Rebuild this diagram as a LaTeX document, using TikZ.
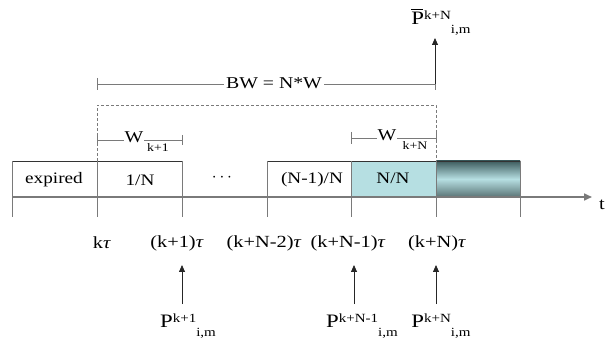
\documentclass[tikz,border=0pt]{standalone}
\usepackage{fontspec}
\setmainfont{Liberation Serif}[FakeStretch=1.2]
\usetikzlibrary{arrows.meta}
\newcommand{\smallf}{\fontsize{11.5}{12}\selectfont}
\newcommand{\midf}{\fontsize{12.5}{13}\selectfont}
\newcommand{\tauc}{\textit{τ}}
\newcommand{\Plab}[2]{P\raisebox{0.3em}{\midf #1}\raisebox{-0.45em}{\midf #2}}
\newcommand{\Pbar}{\makebox[0pt][l]{\raisebox{0.8em}{\rule{0.6em}{0.7pt}}}P}
\definecolor{linegray}{HTML}{7A7A7A}
\definecolor{cyanfill}{HTML}{B6DFE2}
\definecolor{darkteal}{HTML}{3E5C5E}
\begin{document}
\begin{tikzpicture}[x=1pt,y=-1pt,
  every node/.style={font=\fontsize{16.5}{19}\selectfont, inner sep=1pt},
  boxlab/.style={font=\fontsize{16}{18}\selectfont},
  plab/.style={font=\fontsize{19}{21}\selectfont},
  tlab/.style={font=\fontsize{17}{19}\selectfont},
  sublab/.style={font=\smallf},
  gline/.style={draw=linegray, line width=0.8pt},
  axisline/.style={draw=linegray, line width=1.6pt},
  boxedge/.style={draw=black!80, line width=0.6pt},
  dashline/.style={draw=linegray, line width=0.7pt, dash pattern=on 3pt off 2pt},
  arr/.style={draw=black!85, line width=0.8pt, -{Triangle[length=7pt,width=6pt]}}
]
\useasboundingbox (0,0) rectangle (616,339);

% boxes
\fill[cyanfill] (351,161) rectangle (436,197);
\shade[top color=darkteal, bottom color=darkteal!85, middle color=cyanfill] (436,161) rectangle (520,197);
\draw[boxedge] (12,197) -- (12,161) -- (182,161) -- (182,197);
\draw[boxedge] (267,197) -- (267,161) -- (520,161) -- (520,197);

% axis
\coordinate (axs) at (12,197);
\coordinate (axe) at (592,197);
\draw[axisline, -{Triangle[length=8pt,width=7pt]}] (axs) -- (axe);
\node[tlab] (t) at (602,205) {t};

% ticks / edges below axis
\foreach \xx in {12,97,182,267,351,436,520}{
  \draw[gline] (\xx,161) -- (\xx,217);
}

% dashed window
\draw[dashline] (97,161) -- (97,105) -- (436,105) -- (436,161);

% BW bracket
\node[fill=white, inner xsep=2pt] (bw) at (274,83) {BW = N*W};
\coordinate (bwl) at (97,84);
\coordinate (bwr) at (435,84);
\draw[gline] (bwl) -- (bw.west |- bwl);
\draw[gline] (bw.east |- bwr) -- (bwr);
\draw[gline] (97,78) -- (97,90);
\draw[gline] (435,78) -- (435,90);
\node[plab] (pbar) at (441,22) {\Pbar\raisebox{0.3em}{\midf k+N}\raisebox{-0.45em}{\midf i,m}};
\draw[arr] (bwr) -- (435,38);

% W brackets
\draw[gline] (97,140) -- (182,140);
\draw[gline] (97,134) -- (97,146);
\draw[gline] (182,135) -- (182,145);
\node[fill=white, inner xsep=1pt, inner ysep=0pt] (w1) at (134,137) {W};
\node[sublab] (w1s) at (158,147.5) {k+1};

\draw[gline] (351,138) -- (436,138);
\draw[gline] (351,132) -- (351,144);
\draw[gline] (436,133) -- (436,143);
\node[fill=white, inner xsep=1pt, inner ysep=0pt] (w2) at (387,135) {W};
\node[sublab] (w2s) at (415,145.5) {k+N};

% box labels
\node[boxlab] (exp) at (54,180) {expired};
\node[boxlab] (b1) at (140,180) {1/N};
\node[boxlab] (dots) at (222,178) {$\cdots$};
\node[boxlab] (bn1) at (312,180) {(N-1)/N};
\node[boxlab] (bnn) at (393,178) {N/N};

% time labels
\node[tlab] (l0) at (102,243) {k\tauc};
\node[tlab] (l1) at (177,243) {(k+1)\tauc};
\node[tlab] (l2) at (264,243) {(k+N-2)\tauc};
\node[tlab] (l3) at (348,243) {(k+N-1)\tauc};
\node[tlab] (l4) at (437,243) {(k+N)\tauc};

% bottom arrows and labels
\node[plab] (p1) at (188,326) {\Plab{k+1}{i,m}};
\node[plab] (p2) at (362,326) {\Plab{k+N-1}{i,m}};
\node[plab] (p3) at (441,326) {\Plab{k+N}{i,m}};
\coordinate (a1) at (182,304);
\coordinate (a2) at (354,304);
\coordinate (a3) at (436,304);
\draw[arr] (a1) -- (182,265);
\draw[arr] (a2) -- (354,265);
\draw[arr] (a3) -- (436,265);
\end{tikzpicture}
\end{document}
